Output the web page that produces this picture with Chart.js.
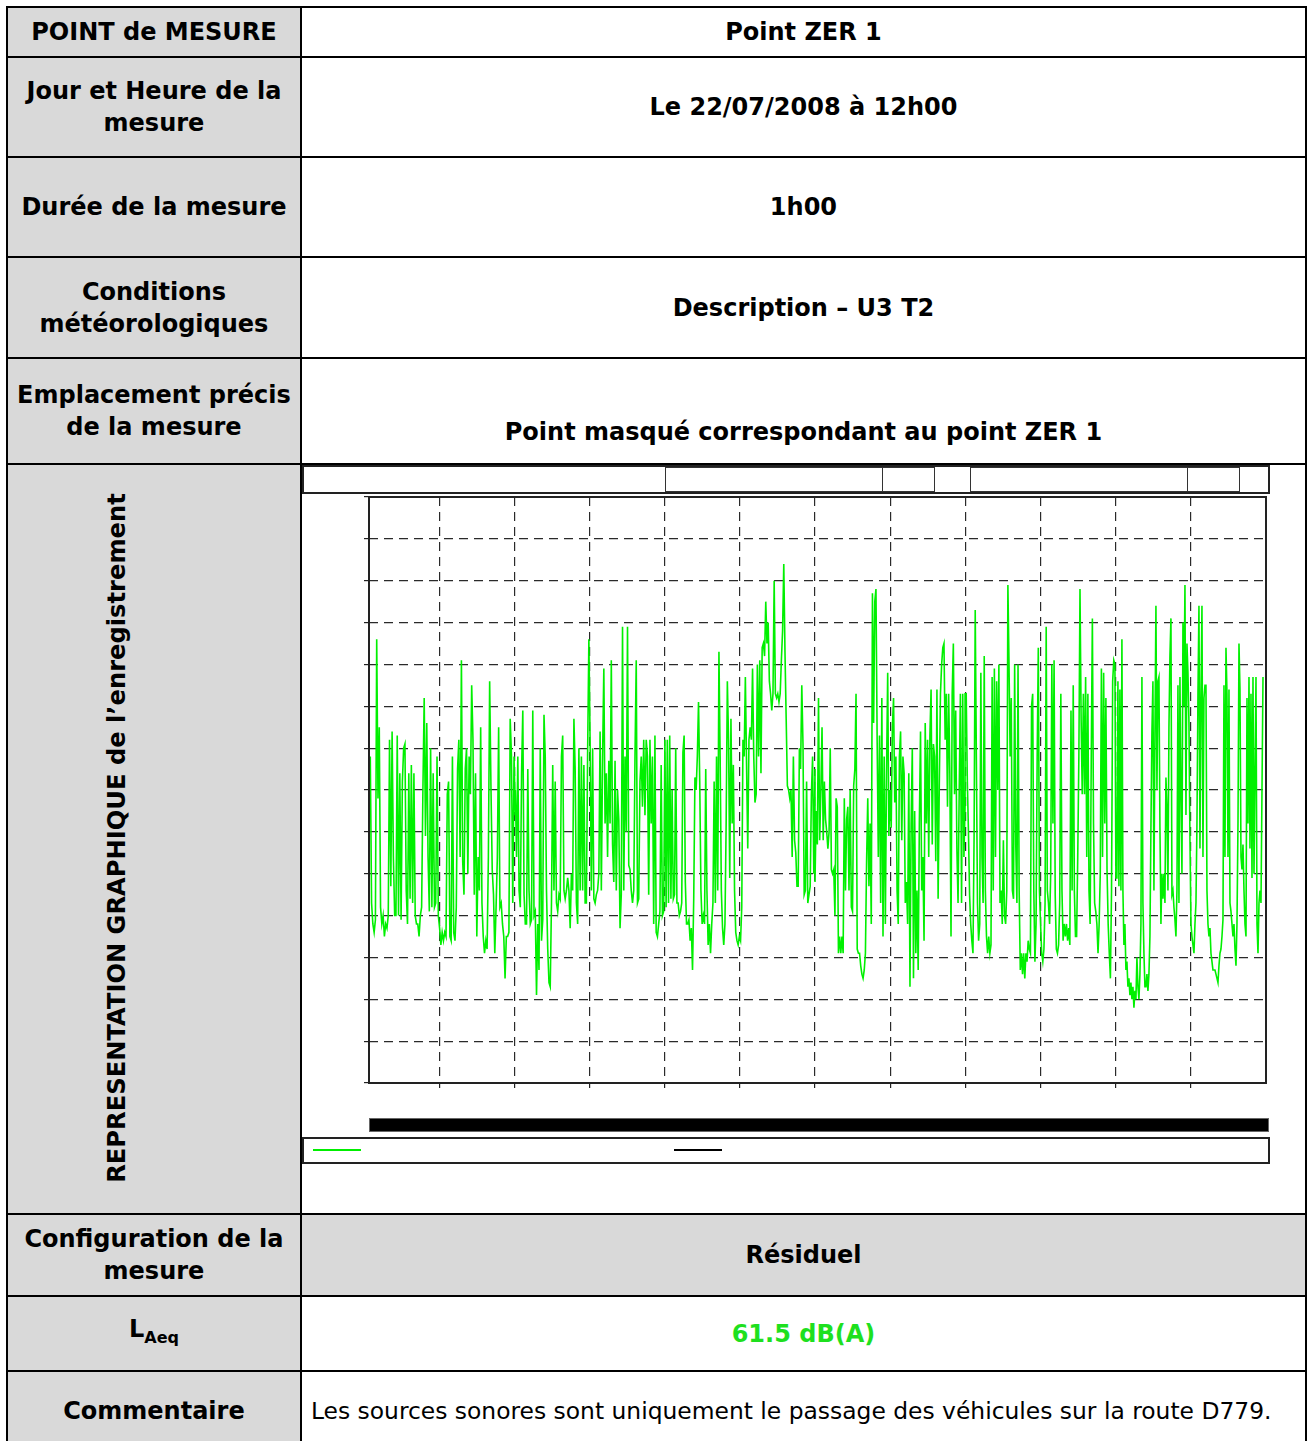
<!DOCTYPE html>
<html>
<head>
<meta charset="utf-8">
<script src="https://cdn.jsdelivr.net/npm/chart.js@4.4.0/dist/chart.umd.min.js"></script>
<style>
    body { margin: 0; background: #fff; width: 1307px; height: 1441px; overflow: hidden;
           font-family: "DejaVu Sans", sans-serif; }
    table { position: absolute; left: 6px; top: 6px; border-collapse: collapse; table-layout: fixed; }
    td { border: 2px solid #000; padding: 0; text-align: center; vertical-align: middle;
         font-weight: bold; font-size: 24px; line-height: 32px; color: #000; }
    td.lab { background: #d9d9d9; }
    td.grey { background: #d9d9d9; }
    td.green { color: #1ee01e; }
    td.low { padding-top: 10px; }
    td.comment { font-weight: normal; font-size: 23.4px; text-align: left; padding-left: 9px; }
    sub { font-size: 16px; vertical-align: -6px; }
    #vertical { position: absolute; left: 117px; top: 838px; transform: translate(-50%, -50%) rotate(-90deg);
                white-space: nowrap; font-weight: bold; font-size: 24.2px; }
    #chartBox { position: absolute; left: 302px; top: 465px; width: 968px; height: 698px; }
    #chartBox div { position: absolute; box-sizing: border-box; }
    .frame { border: 2px solid #222; background: #fff; }
    .inner { border: 1px solid #333; }
    .bar { background: #000; border: 1px solid #666; }
    .sample { height: 2px; }
    canvas { position: absolute; left: 0; top: 0; }
</style>
</head>
<body>
<table>
    <colgroup><col style="width:294px"><col style="width:1006px"></colgroup>
    <tr style="height:50px"><td class="lab">POINT de MESURE</td><td>Point ZER 1</td></tr>
    <tr style="height:100px"><td class="lab">Jour et Heure de la<br>mesure</td><td>Le 22/07/2008 à 12h00</td></tr>
    <tr style="height:100px"><td class="lab">Durée de la mesure</td><td>1h00</td></tr>
    <tr style="height:101px"><td class="lab">Conditions<br>météorologiques</td><td>Description – U3 T2</td></tr>
    <tr style="height:106px"><td class="lab">Emplacement précis<br>de la mesure</td><td class="low">&nbsp;<br>Point masqué correspondant au point ZER 1</td></tr>
    <tr style="height:750px"><td class="lab"></td><td></td></tr>
    <tr style="height:82px"><td class="lab">Configuration de la<br>mesure</td><td class="grey">Résiduel</td></tr>
    <tr style="height:75px"><td class="lab">L<sub>Aeq</sub></td><td class="green">61.5 dB(A)</td></tr>
    <tr style="height:80px"><td class="lab">Commentaire</td><td class="comment">Les sources sonores sont uniquement le passage des véhicules sur la route D779.</td></tr>
</table>
<div id="vertical">REPRESENTATION GRAPHIQUE de l’enregistrement</div>

<div id="chartBox">
    <div class="frame" style="left:0;top:0;width:968px;height:29px"></div>
    <div class="inner" style="left:363px;top:2px;width:218px;height:25px"></div>
    <div class="inner" style="left:580px;top:2px;width:53px;height:25px"></div>
    <div class="inner" style="left:668px;top:2px;width:218px;height:25px"></div>
    <div class="inner" style="left:885px;top:2px;width:53px;height:25px"></div>
    <canvas id="noiseChart" width="968" height="698"></canvas>
    <div class="bar" style="left:67px;top:653px;width:900px;height:14px"></div>
    <div class="frame" style="left:0;top:672px;width:968px;height:27px"></div>
    <div class="sample" style="left:11px;top:684px;width:48px;background:#00ee00"></div>
    <div class="sample" style="left:372px;top:684px;width:48px;background:#000"></div>
</div>

<script>
const segStart = [20, 604, 1201, 1800, 2399, 2997];
const segEnd = [604, 1201, 1800, 2399, 2997, 3588];

const levels1 = [57, 59, 41.5, 39, 38, 39.5, 73, 54, 62.5, 41, 39, 40, 37.5, 39, 38.5, 40, 61, 43.5, 62, 47, 40, 40, 61.5, 40, 57, 39.5, 56, 60, 60.5, 43, 39, 57, 42, 58, 41.5, 57, 40, 39, 39, 37.5, 40, 41, 55, 66, 49.5, 63, 47, 40.5, 60, 41, 57, 41, 41.5, 59, 40, 38.5, 36.5, 38, 37, 38, 37.5, 54.5, 56, 37.5, 37, 59, 38, 37, 41, 57.5, 61, 47, 70.5, 46.5, 42.5, 57.5, 60, 45, 59, 54.5, 67.5, 61, 42.5, 57, 37.5, 47, 43, 62.5, 41.5, 37.5, 35.5, 37, 36, 47, 68, 55.5, 45.5, 42.5, 35.5, 41, 47, 62.5, 41, 41.5, 39, 37.5, 32.5, 37.5, 37.5, 38, 63.5, 59, 41.5, 59, 52];
const levels2 = [55, 47, 59, 43, 41, 57, 64.5, 42.5, 39, 39, 57.5, 43, 39, 39.5, 64.5, 40, 40.5, 30.5, 39, 33.5, 60, 37, 39.5, 64, 59, 43, 36, 32, 31.5, 41.5, 58, 43, 56, 41.5, 40.5, 42.5, 42, 59, 61.5, 43, 42, 43, 44.5, 43, 38.5, 45, 43, 63.5, 57.5, 41.5, 39, 60, 43, 59, 43, 58, 41.5, 41.5, 59.5, 73, 60.5, 43, 60, 42, 41.5, 42.5, 43, 45, 62, 43, 59, 69.5, 51, 57, 47, 58.5, 51, 70.5, 48.5, 44, 58.5, 43, 55, 51.5, 38.5, 42.5, 74.5, 43, 59, 50, 74.5, 46, 45.5, 43, 41.5, 43, 59, 70.5, 41.5, 42, 56, 59, 53, 61, 52, 61, 59, 42.5, 61, 51, 59, 39, 61.5, 38, 37.5, 39, 40.5, 58, 40, 40.5, 61];
const levels3 = [61, 41, 61, 41.5, 61.5, 42, 55, 42, 42.5, 60, 41.5, 41.5, 40, 40.5, 41.5, 59.5, 61.5, 44, 39, 39, 39.5, 37, 38.5, 33.5, 42, 56.5, 55, 59, 65.5, 56, 43, 39, 40, 39, 57.5, 43, 36.5, 39, 35.5, 39, 41.5, 56, 41.5, 59, 43, 71.5, 59, 43, 38.5, 36.5, 39, 51, 68, 61, 44.5, 63.5, 51, 58, 43, 38, 37, 36.5, 37.5, 37, 41, 61, 59, 68.5, 58, 48, 61, 62.5, 61, 69.5, 59, 53.5, 54.5, 70, 59, 70.5, 57, 72, 72.5, 71, 77.5, 72.5, 75, 68, 66.5, 64.5, 66.5, 80, 66.5, 66, 66.5, 65.5, 66.5, 70.5, 74, 82, 71.5, 63.5, 55.5, 55, 54, 55, 47, 59, 49, 47.5, 43.5, 43.5, 60, 57.5, 67.5, 60.5, 42.5, 43, 56, 41.5, 42.5, 43.5, 54.5, 59, 45, 57.5];
const levels4 = [44, 52.5, 48.5, 66, 49, 55, 62.5, 49, 56, 51.5, 50, 48, 50, 60, 45.5, 45, 45.5, 40, 54, 53, 35.5, 37.5, 35.5, 37.5, 35.5, 54, 43, 51.5, 53, 43, 55, 41, 40.5, 55.5, 57.5, 66.5, 36, 35.5, 35.5, 34, 33, 32.5, 33.5, 35.5, 46.5, 54, 43.5, 51, 39, 78.5, 63, 77.5, 79, 61, 47, 61.5, 41.5, 66, 37.5, 59, 39, 57, 69, 49.5, 55, 50.5, 62.5, 66, 53.5, 59, 43, 39, 59, 62, 49, 59, 57, 41.5, 44, 39, 57, 31.5, 51, 60, 32.5, 52.5, 35.5, 43, 33.5, 51, 62, 43, 47, 37, 63, 51, 61, 47, 61.5, 67, 48.5, 60.5, 59, 46.5, 67, 42, 55.5, 66.5, 70, 72, 72.5, 61, 66.5, 53, 66.5, 57, 37.5, 66.5, 72.5, 54.5, 64.5, 48, 41.5, 55, 66.5, 41.5, 66.5, 47, 53];
const levels5 = [66.5, 66.5, 56, 50, 42.5, 39, 37, 35.5, 49.5, 76.5, 59, 41.5, 37, 39, 69, 47, 41.5, 71, 43, 37.5, 35.5, 37.5, 35.5, 36.5, 68.5, 43, 69.5, 47, 68, 55, 70, 41.5, 43, 39, 49, 40, 39, 43, 79.5, 70, 59, 66, 43, 42, 70, 48.5, 41.5, 70, 43, 33.5, 35.5, 33, 35.5, 32.5, 35.5, 34.5, 37, 36, 35.5, 65, 66.5, 43, 34.5, 39, 59, 72, 43, 39, 35.5, 34.5, 36, 41.5, 74.5, 43, 41.5, 39, 45, 70, 51, 70.5, 42.5, 36, 35.5, 36.5, 41.5, 66.5, 43, 37, 39, 37.5, 39, 37, 38.5, 36.5, 64.5, 43, 67.5, 43, 37.5, 37.5, 47, 59, 79, 63.5, 54.5, 66.5, 54.5, 68.5, 47, 66.5, 43, 39, 59, 75.5, 51, 41.5, 40.5, 39, 35.5, 39, 45, 69.5, 47, 69, 51, 66, 45.5, 39, 35.5, 32.5, 43, 68, 70.5, 70];
const levels6 = [70, 44.5, 44.5, 68, 43.5, 67, 43, 73, 43, 36.5, 39, 33.5, 34.5, 31.5, 32.5, 30.5, 32, 30, 31.5, 29, 31, 30, 35, 31.5, 30, 33, 39, 68.5, 41.5, 35.5, 31.5, 31.5, 33, 31, 33, 37.5, 50.5, 62, 68, 43, 61.5, 77, 55, 68, 68.5, 50.5, 39, 45, 42, 45, 41.5, 56.5, 53, 43, 62.5, 71, 75.5, 42.5, 43, 41, 39.5, 37.5, 43, 67.5, 41.5, 68.5, 54.5, 45, 75, 65, 79.5, 52, 72.5, 69, 63, 49, 39, 37.5, 36.5, 35.5, 39, 41.5, 51, 66.5, 77, 48, 66, 77, 47, 66, 67.5, 67.5, 43, 39, 37.5, 38.5, 35.5, 34.5, 33.5, 33.5, 33.5, 33, 32.5, 32, 34, 35.5, 36, 37.5, 39.5, 67.5, 47, 72, 66.5, 47, 67, 41.5, 40.5, 39, 37.5, 39, 36, 34, 39, 51, 72.5, 67, 47, 45.5, 48.5, 43, 39, 37.5, 66, 51, 68.5, 48, 66.5, 44.5, 68.5, 45, 57, 68.5, 39, 35.5, 41.5, 43, 41.5, 55, 68.5];

const segments = [levels1, levels2, levels3, levels4, levels5, levels6];

// axes : secondes depuis 12h00, dB
const timeMin = 20, timeMax = 3600, timeStep = 300;
const dbMin = 20, dbMax = 90, dbStep = 5;

// construction des points (temps, niveau)
const points = [];
segments.forEach(function(seg, k) {
    const dt = (segEnd[k] - segStart[k]) / (seg.length - 1);
    seg.forEach(function(v, i) {
        points.push({ x: segStart[k] + i * dt, y: v });
    });
});

const framePlugin = {
    id: 'frame',
    afterDraw: function(chart) {
        const a = chart.chartArea;
        const ctx = chart.ctx;
        ctx.save();
        ctx.strokeStyle = '#222';
        ctx.lineWidth = 2;
        ctx.strokeRect(a.left, a.top, a.right - a.left, a.bottom - a.top);
        ctx.restore();
    }
};

document.addEventListener('DOMContentLoaded', function() {
    const ctx = document.getElementById('noiseChart').getContext('2d');
    new Chart(ctx, {
        type: 'line',
        data: {
            datasets: [{
                data: points,
                borderColor: '#00f000',
                borderWidth: 1.6,
                pointRadius: 0,
                tension: 0,
                fill: false
            }]
        },
        options: {
            responsive: false,
            animation: false,
            devicePixelRatio: 1,
            layout: { padding: { left: 62, top: 32, right: 4, bottom: 75 } },
            plugins: { legend: { display: false }, tooltip: { enabled: false } },
            scales: {
                x: {
                    type: 'linear',
                    min: timeMin,
                    max: timeMax,
                    afterBuildTicks: function(scale) {
                        const t = [];
                        for (let v = timeStep; v < timeMax; v += timeStep) t.push({ value: v });
                        scale.ticks = t;
                    },
                    afterFit: function(scale) { scale.height = 5; },
                    ticks: { display: false },
                    grid: { color: '#2a2a2a', lineWidth: 1.2, tickLength: 5, tickColor: '#222' },
                    border: { display: false, dash: [9, 6] }
                },
                y: {
                    min: dbMin,
                    max: dbMax,
                    ticks: { display: false, stepSize: dbStep },
                    afterFit: function(scale) { scale.width = 5; },
                    grid: { color: '#2a2a2a', lineWidth: 1.2, tickLength: 5, tickColor: '#222' },
                    border: { display: false, dash: [9, 6] }
                }
            }
        },
        plugins: [framePlugin]
    });
});
</script>
</body>
</html>
